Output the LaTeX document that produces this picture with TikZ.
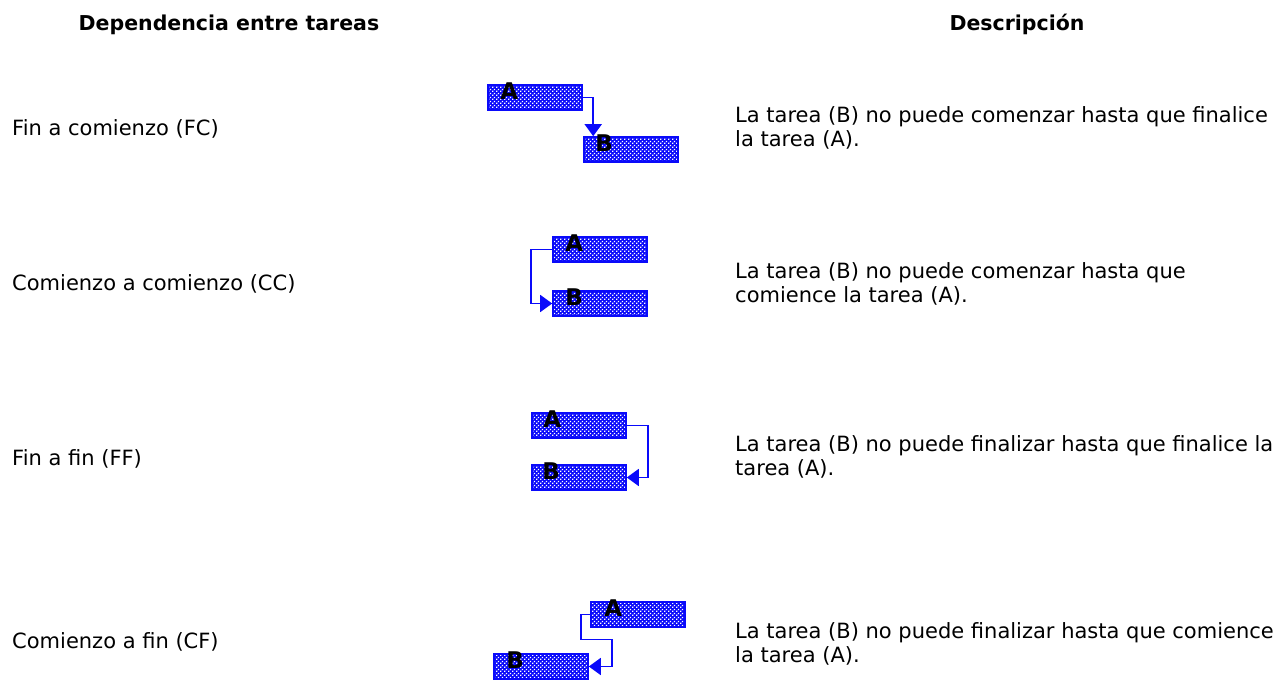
\documentclass[tikz,border=0pt]{standalone}
\usepackage{fontspec}
\setmainfont{DejaVu Sans}
\usetikzlibrary{arrows.meta}
\usetikzlibrary{patterns}
\usetikzlibrary{positioning}

\definecolor{barblue}{RGB}{10,10,250}

% staggered white dots for the task bars
\pgfdeclarepatternformonly{taskdots}{\pgfpointorigin}{\pgfpoint{4pt}{4pt}}{\pgfpoint{4pt}{4pt}}{
  \pgfpathrectangle{\pgfpoint{0.3pt}{0.3pt}}{\pgfpoint{1.5pt}{1.5pt}}
  \pgfpathrectangle{\pgfpoint{2.3pt}{2.3pt}}{\pgfpoint{1.5pt}{1.5pt}}
  \pgfusepath{fill}
}

\tikzset{
  task/.style={draw=barblue, line width=1.6pt, minimum width=94pt, minimum height=25pt,
    inner sep=0pt, preaction={fill=barblue}, pattern=taskdots, pattern color=white},
  tag/.style={anchor=base, font=\bfseries\fontsize{23}{23}\selectfont, inner sep=0pt},
  link/.style={barblue, line width=1.7pt, -{Triangle[length=12pt,width=17pt]}},
  kind/.style={anchor=base west, inner sep=0pt, font=\fontsize{21}{21}\selectfont},
  desc/.style={anchor=north west, inner sep=0pt, align=left, font=\fontsize{21}{24}\selectfont},
  head/.style={anchor=base, inner sep=0pt, font=\bfseries\fontsize{20.5}{20.5}\selectfont}
}

\begin{document}
\begin{tikzpicture}[x=1pt, y=-1pt]
  \useasboundingbox (0,0) rectangle (1283,680);

  % column headings
  \node[head] (h1) at (229,30) {Dependencia entre tareas};
  \node[head] (h2) at (1017,30) {Descripción};

  % fin a comienzo
  \node[kind] (fc) at (12,135) {Fin a comienzo (FC)};
  \node[task] (fcA) at (535,97.5) {};
  \node[task] (fcB) at (631,149.5) {};
  \node[tag] at ([xshift=22pt,yshift=-15pt]fcA.north west) {A};
  \node[tag] at ([xshift=21pt,yshift=-15pt]fcB.north west) {B};
  \draw[link] (fcA.east) -| ([xshift=10pt]fcB.north west);
  \node[desc] (fcd) at (735,106) {La tarea (B) no puede comenzar hasta que finalice\\la tarea (A).};

  % comienzo a comienzo
  \node[kind] (cc) at (12,290) {Comienzo a comienzo (CC)};
  \node[task] (ccA) at (600,249.5) {};
  \node[task] (ccB) at (600,303.5) {};
  \node[tag] at ([xshift=22pt,yshift=-15pt]ccA.north west) {A};
  \node[tag] at ([xshift=22pt,yshift=-15pt]ccB.north west) {B};
  \draw[link] (ccA.west) -- ++(-21,0) |- (ccB.west);
  \node[desc] (ccd) at (735,262) {La tarea (B) no puede comenzar hasta que\\comience la tarea (A).};

  % fin a fin
  \node[kind] (ff) at (12,465) {Fin a fin (FF)};
  \node[task] (ffA) at (579,425.5) {};
  \node[task] (ffB) at (579,477.5) {};
  \node[tag] at ([xshift=21pt,yshift=-15pt]ffA.north west) {A};
  \node[tag] at ([xshift=20pt,yshift=-15pt]ffB.north west) {B};
  \draw[link] (ffA.east) -- ++(21,0) |- (ffB.east);
  \node[desc] (ffd) at (735,435) {La tarea (B) no puede finalizar hasta que finalice la\\tarea (A).};

  % comienzo a fin
  \node[kind] (cf) at (12,648) {Comienzo a fin (CF)};
  \node[task] (cfA) at (638,614.5) {};
  \node[task] (cfB) at (541,666.5) {};
  \node[tag] at ([xshift=23pt,yshift=-15pt]cfA.north west) {A};
  \node[tag] at ([xshift=22pt,yshift=-15pt]cfB.north west) {B};
  \draw[link] (cfA.west) -- ++(-9,0) -- ++(0,25) -- ++(31,0) |- (cfB.east);
  \node[desc] (cfd) at (735,622) {La tarea (B) no puede finalizar hasta que comience\\la tarea (A).};
\end{tikzpicture}
\end{document}
